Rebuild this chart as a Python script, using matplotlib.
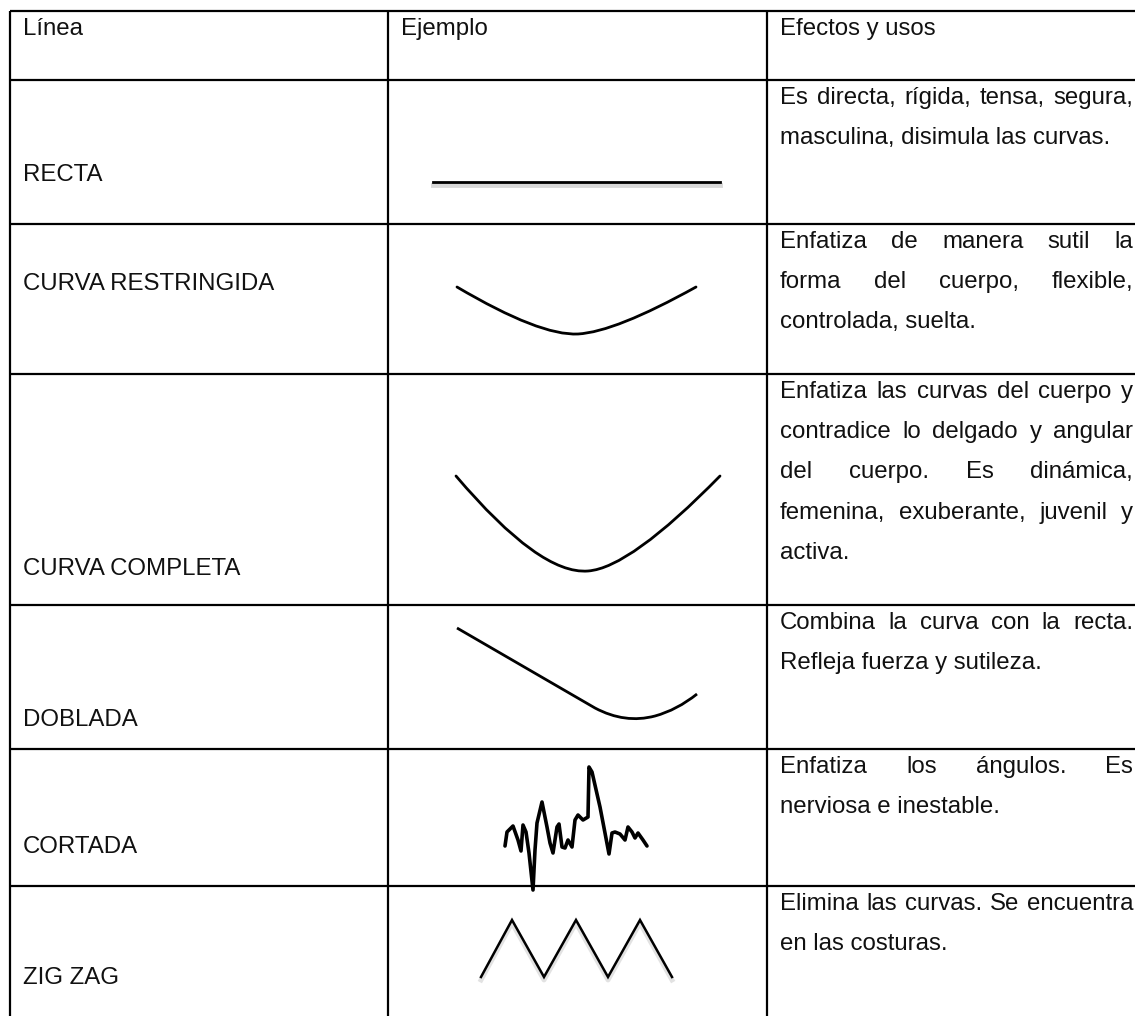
import matplotlib
matplotlib.use("Agg")
import matplotlib.pyplot as plt
from matplotlib.path import Path
from matplotlib.patches import PathPatch

# tabla: encabezados, filas y textos
encabezados = ["Línea", "Ejemplo", "Efectos y usos"]
lineas = ["RECTA", "CURVA RESTRINGIDA", "CURVA COMPLETA", "DOBLADA", "CORTADA", "ZIG ZAG"]
efectos = [
    ["Es directa, rígida, tensa, segura,", "masculina, disimula las curvas."],
    ["Enfatiza de manera sutil la", "forma del cuerpo, flexible,", "controlada, suelta."],
    ["Enfatiza las curvas del cuerpo y", "contradice lo delgado y angular",
     "del cuerpo. Es dinámica,", "femenina, exuberante, juvenil y", "activa."],
    ["Combina la curva con la recta.", "Refleja fuerza y sutileza."],
    ["Enfatiza los ángulos. Es", "nerviosa e inestable."],
    ["Elimina las curvas. Se encuentra", "en las costuras."],
]

# ejemplos dibujados (coordenadas en pixeles de la pagina)
recta_x = [433, 720]
recta_y = [182, 182]
restringida = [(457, 287), (540, 336), (578, 334), (615, 332), (696, 287)]
completa = [(456, 476), (540, 575), (588, 571), (630, 568), (720, 476)]
doblada = [(457, 628), (595, 708), (625, 724), (655, 716), (677, 710), (697, 694)]
cortada_x = [505, 507, 513, 518, 521, 523, 526, 529, 533, 535, 537, 542, 547, 550, 553,
             557, 559, 562, 565, 568, 572, 575, 578, 583, 588, 589, 592, 600, 605, 609,
             612, 615, 620, 625, 628, 632, 635, 638, 643, 647]
cortada_y = [846, 832, 826, 840, 851, 825, 832, 853, 890, 850, 823, 802, 827, 843, 853,
             827, 824, 847, 848, 840, 847, 820, 815, 820, 817, 767, 772, 807, 833, 854,
             833, 832, 834, 840, 827, 832, 838, 833, 840, 846]
zigzag_x = [481, 512, 544, 576, 608, 640, 672]
zigzag_y = [977, 920, 977, 920, 977, 920, 977]

W, H = 1135, 1016
filas = [11, 80, 224, 374, 605, 749, 886]
columnas = [10, 388, 767]
etiqueta_y = [181, 290, 575, 726, 853, 984]
margen = 13
derecha = 1133
paso = 40.2
FUENTE = "Liberation Sans"
TAM = 17.3

fig = plt.figure(figsize=(W / 100, H / 100), dpi=100)
ax = fig.add_axes([0, 0, 1, 1])
ax.set_xlim(0, W)
ax.set_ylim(H, 0)
ax.axis("off")

# bordes de la tabla
for y in filas:
    ax.plot([columnas[0], W], [y, y], color="black", lw=1.6, solid_capstyle="butt")
for x in columnas:
    ax.plot([x, x], [filas[0], H], color="black", lw=1.6, solid_capstyle="butt")

renderer = fig.canvas.get_renderer()


def ancho(texto):
    t = ax.text(0, 0, texto, fontsize=TAM, family=FUENTE)
    w = t.get_window_extent(renderer).width
    t.remove()
    return w


def linea_justificada(texto, x0, x1, y):
    palabras = texto.split(" ")
    anchos = [ancho(p) for p in palabras]
    hueco = (x1 - x0 - sum(anchos)) / (len(palabras) - 1)
    x = x0
    for p, w in zip(palabras, anchos):
        ax.text(x, y, p, fontsize=TAM, family=FUENTE, va="baseline", color="#111111")
        x += w + hueco


# encabezados
for x, txt in zip(columnas, encabezados):
    ax.text(x + margen, filas[0] + 24, txt, fontsize=TAM, family=FUENTE,
            va="baseline", color="#111111")

# etiquetas y textos
for i, nombre in enumerate(lineas):
    ax.text(columnas[0] + margen, etiqueta_y[i], nombre, fontsize=TAM, family=FUENTE,
            va="baseline", color="#111111")
    y0 = filas[i + 1] + 24
    parrafo = efectos[i]
    for k, txt in enumerate(parrafo):
        y = y0 + k * paso
        if k < len(parrafo) - 1:
            linea_justificada(txt, columnas[2] + margen, derecha, y)
        else:
            ax.text(columnas[2] + margen, y, txt, fontsize=TAM, family=FUENTE,
                    va="baseline", color="#111111")

# RECTA con sombra
ax.plot(recta_x, [v + 3 for v in recta_y], color="#c8c8c8", lw=3.5, alpha=0.7)
ax.plot(recta_x, recta_y, color="black", lw=2.0)


def curva(puntos):
    codigos = [Path.MOVETO] + [Path.CURVE3] * (len(puntos) - 1)
    return PathPatch(Path(puntos, codigos), fill=False, lw=2.0, edgecolor="black",
                     capstyle="round")


ax.add_patch(curva(restringida))
ax.add_patch(curva(completa))
doblada_path = Path(doblada, [Path.MOVETO, Path.LINETO, Path.CURVE3, Path.CURVE3,
                              Path.CURVE3, Path.CURVE3])
ax.add_patch(PathPatch(doblada_path, fill=False, lw=2.0, edgecolor="black"))

ax.plot(cortada_x, cortada_y, color="black", lw=2.6, solid_joinstyle="round",
        solid_capstyle="round")

ax.plot(zigzag_x, [v + 3 for v in zigzag_y], color="#cfcfcf", lw=3.5, alpha=0.6)
ax.plot(zigzag_x, zigzag_y, color="black", lw=1.8, solid_joinstyle="miter")

fig.savefig("out.png", dpi=100)
